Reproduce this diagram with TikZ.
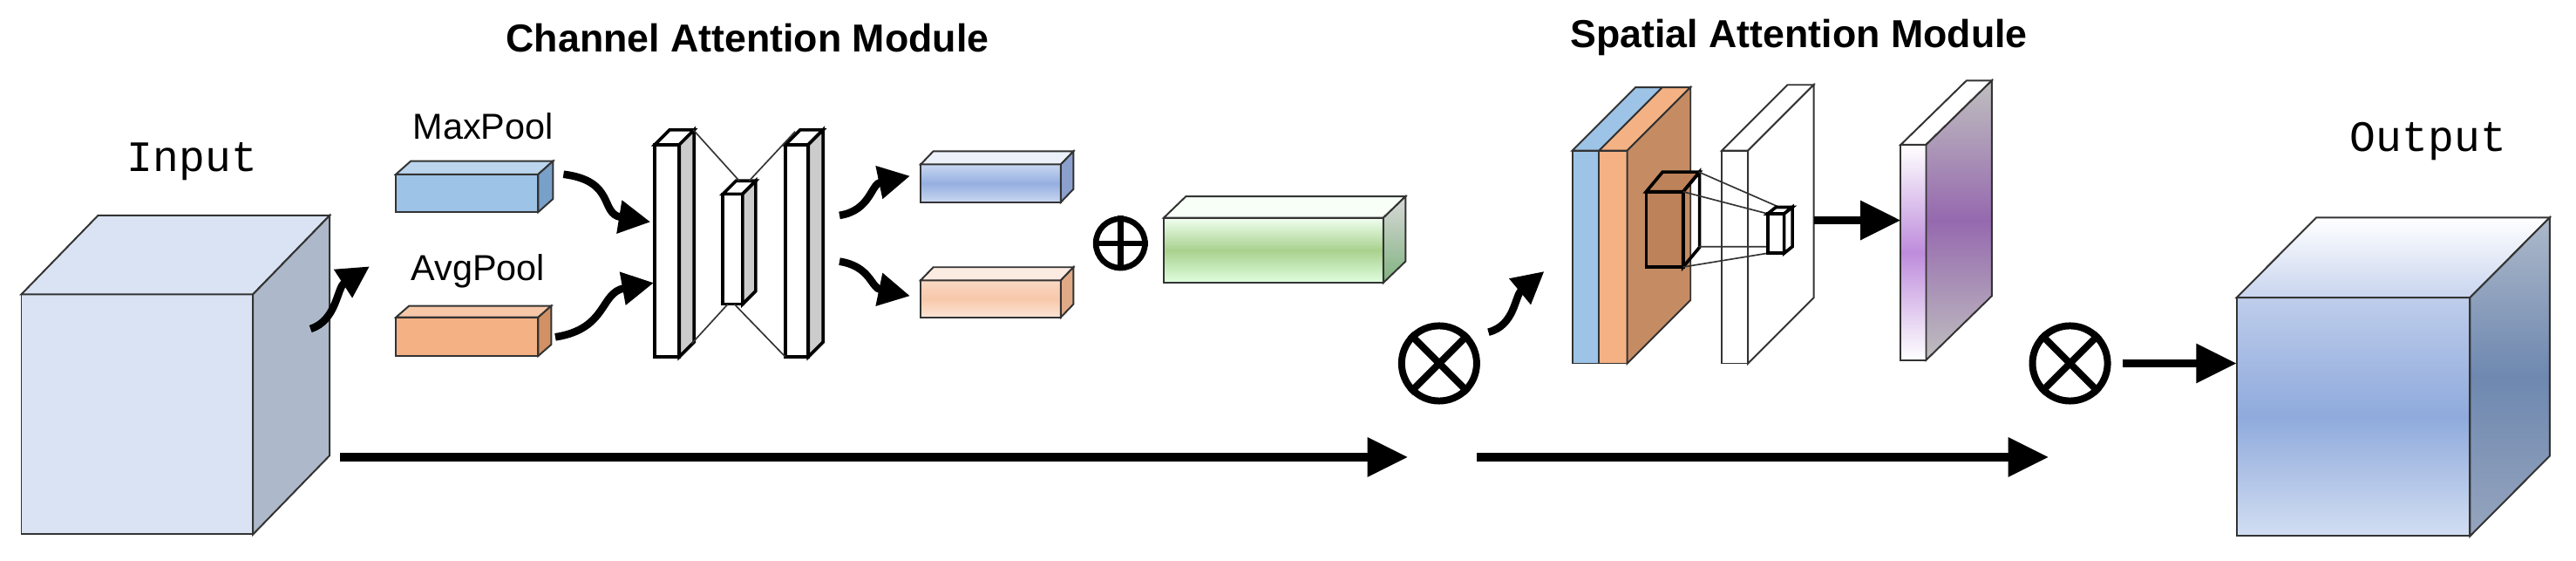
\documentclass[tikz,border=0pt]{standalone}
\usepackage{fontspec}
\setmainfont{Liberation Sans}
\newfontfamily\monof{Liberation Mono}
\usetikzlibrary{arrows.meta}
\definecolor{lblue}{RGB}{218,227,243}
\definecolor{pblue}{RGB}{157,195,230}
\definecolor{porange}{RGB}{244,177,131}
\newcommand\cub[9]{%
  \path[#7] (#1,#2) rectangle (#3,#4);
  \path[#8] (#1,#2) -- ++(#5,-#6) -- ({#3+#5},{#2-#6}) -- (#3,#2) -- cycle;
  \path[#9] (#3,#2) -- ({#3+#5},{#2-#6}) -- ({#3+#5},{#4-#6}) -- (#3,#4) -- cycle;}
\begin{document}
\begin{tikzpicture}[x=0.2mm,y=-0.2mm,
  edge/.style={draw=black!80,line width=0.6pt},
  bar/.style={draw=black,line width=1.1pt},
  big/.style={line width=2.8pt,-{Triangle[length=14pt,width=13pt]}},
  curly/.style={line width=2.6pt,-{Triangle[length=11pt,width=11pt]}},
  title/.style={font=\bfseries\fontsize{13.5}{16}\selectfont},
  lab/.style={font=\fontsize{12.5}{14}\selectfont},
  io/.style={font=\monof\fontsize{15}{17}\selectfont}]
\useasboundingbox (0,0) rectangle (1568,341);
% titles
\node[title] (t1) at (455,23) {Channel Attention Module};
\node[title] (t2) at (1095,23) {Spatial Attention Module};
\node[io] (lin) at (117,98) {Input};
\node[io] (lout) at (1478,86) {Output};
\node[lab] (lmax) at (294,77) {MaxPool};
\node[lab] (lavg) at (291,165) {AvgPool};
% input cube
\cub{13}{179}{154}{325}{46.7}{48}{edge,fill=lblue}{edge,fill=lblue}{edge,fill={rgb,255:red,173;green,185;blue,202}}
% pools
\cub{241}{106}{327.6}{129}{9}{8}{edge,fill=pblue}{edge,fill=pblue!70!white}{edge,fill={rgb,255:red,120;green,160;blue,200}}
\cub{241}{193}{327.6}{216.5}{8}{7}{edge,fill=porange}{edge,fill=porange!70!white}{edge,fill={rgb,255:red,210;green,145;blue,100}}
% FC bars
\cub{398.6}{88}{413.5}{217}{9}{9}{bar,fill=white}{bar,fill=white}{bar,fill=black!20}
\cub{440}{118}{452}{185}{8}{8}{bar,fill=white}{bar,fill=white}{bar,fill=black!20}
\cub{478}{88}{492}{217}{9}{9}{bar,fill=white}{bar,fill=white}{bar,fill=black!20}
\draw[black!80,line width=0.5pt] (422,79) -- (450,110) (456,110) -- (484,80)
  (421,209) -- (443,185) (447,185) -- (478,217);
% outputs of MLP
\cub{560.4}{100}{645.7}{123}{7.7}{8}{edge,top color={rgb,255:red,200;green,215;blue,240},bottom color={rgb,255:red,200;green,215;blue,240},middle color={rgb,255:red,150;green,175;blue,225}}{edge,fill=lblue!50!white}{edge,fill={rgb,255:red,140;green,160;blue,205}}
\cub{560.4}{170.5}{645.7}{193}{7.7}{8}{edge,top color={rgb,255:red,250;green,215;blue,195},bottom color={rgb,255:red,252;green,228;blue,212},middle color={rgb,255:red,247;green,200;blue,170}}{edge,fill={rgb,255:red,252;green,235;blue,225}}{edge,fill={rgb,255:red,225;green,170;blue,135}}
% oplus
\node[circle,draw,line width=2pt,minimum size=17pt,inner sep=0] (plus) at (682,148) {};
\draw[line width=2pt] (plus.north) -- (plus.south) (plus.west) -- (plus.east);
% green box
\cub{708.3}{132.5}{842}{172}{13.5}{13}{edge,top color=green!6,bottom color=green!12,middle color={rgb,255:red,169;green,209;blue,142}}{edge,fill=green!3}{edge,top color=black!15,bottom color=green!40!black!50}
% otimes
\node[circle,draw,line width=2.4pt,minimum size=26pt,inner sep=0] (ot1) at (876,221) {};
\draw[line width=2.4pt] (ot1.north west) -- (ot1.south east) (ot1.north east) -- (ot1.south west);
\node[circle,draw,line width=2.4pt,minimum size=26pt,inner sep=0] (ot2) at (1260,221) {};
\draw[line width=2.4pt] (ot2.north west) -- (ot2.south east) (ot2.north east) -- (ot2.south west);
% spatial slab
\path[edge,fill=pblue] (957,91.6) rectangle (973.4,221);
\path[edge,fill=porange] (973.4,91.6) rectangle (990.5,221);
\path[edge,fill=pblue] (957,91.6) -- (995.5,53.1) -- (1011.9,53.1) -- (973.4,91.6) -- cycle;
\path[edge,fill=porange] (973.4,91.6) -- (1011.9,53.1) -- (1029,53.1) -- (990.5,91.6) -- cycle;
\path[edge,fill={rgb,255:red,197;green,140;blue,100}] (990.5,91.6) -- (1029,53.1) -- (1029,182.5) -- (990.5,221) -- cycle;
\cub{1002}{116.6}{1024.5}{162.4}{10}{12}{bar,fill={rgb,255:red,190;green,130;blue,90}}{bar,fill={rgb,255:red,190;green,130;blue,90}}{bar,fill=none}
% white slab
\cub{1048}{91.6}{1064}{221}{40}{40}{edge,fill=white}{edge,fill=white}{edge,fill=white}
\draw[black!80,line width=0.5pt] (1034,104.6) -- (1083,126) (1024.5,116.6) -- (1076,130)
  (1024.5,162.4) -- (1076,154) (1034,150) -- (1083,150);
\cub{1076}{130}{1086}{154}{5}{4}{bar,fill=white}{bar,fill=white}{bar,fill=white}
% purple slab
\cub{1157}{88}{1172.4}{219}{40}{39}{edge,top color=white,bottom color=white,middle color={rgb,255:red,190;green,140;blue,220}}{edge,fill=white}{edge,top color=black!25,bottom color=black!25,middle color={rgb,255:red,150;green,105;blue,175}}
% output cube
\cub{1361.4}{181}{1503.5}{326}{48.5}{48.7}{edge,top color={rgb,255:red,190;green,205;blue,235},bottom color={rgb,255:red,210;green,222;blue,242},middle color={rgb,255:red,143;green,170;blue,220}}{edge,top color=white,bottom color={rgb,255:red,200;green,212;blue,238}}{edge,top color={rgb,255:red,173;green,185;blue,202},bottom color={rgb,255:red,150;green,165;blue,190},middle color={rgb,255:red,110;green,136;blue,176}}
% arrows
\coordinate (a0) at (189,200); \coordinate (a1) at (225,162);
\draw[curly] (a0) .. controls (205,195) and (205,175) .. (a1);
\coordinate (b0) at (343,106); \coordinate (b1) at (396,135);
\draw[curly] (b0) .. controls (375,110) and (365,130) .. (b1);
\coordinate (c0) at (338,205); \coordinate (c1) at (398,172);
\draw[curly] (c0) .. controls (370,200) and (365,178) .. (c1);
\coordinate (d0) at (511,131); \coordinate (d1) at (554,107);
\draw[curly] (d0) .. controls (530,128) and (530,112) .. (d1);
\coordinate (e0) at (511,159); \coordinate (e1) at (554,180);
\draw[curly] (e0) .. controls (530,162) and (530,175) .. (e1);
\coordinate (f0) at (906,202); \coordinate (f1) at (940,165);
\draw[curly] (f0) .. controls (922,198) and (922,180) .. (f1);
\coordinate (g0) at (207,278); \coordinate (g1) at (857,278);
\draw[big] (g0) -- (g1);
\coordinate (h0) at (899,278); \coordinate (h1) at (1247,278);
\draw[big] (h0) -- (h1);
\coordinate (i0) at (1104,134); \coordinate (i1) at (1157,134);
\draw[big] (i0) -- (i1);
\coordinate (j1) at (1361.4,221);
\draw[big] ([xshift=4pt]ot2.east) -- (j1);
\end{tikzpicture}
\end{document}
